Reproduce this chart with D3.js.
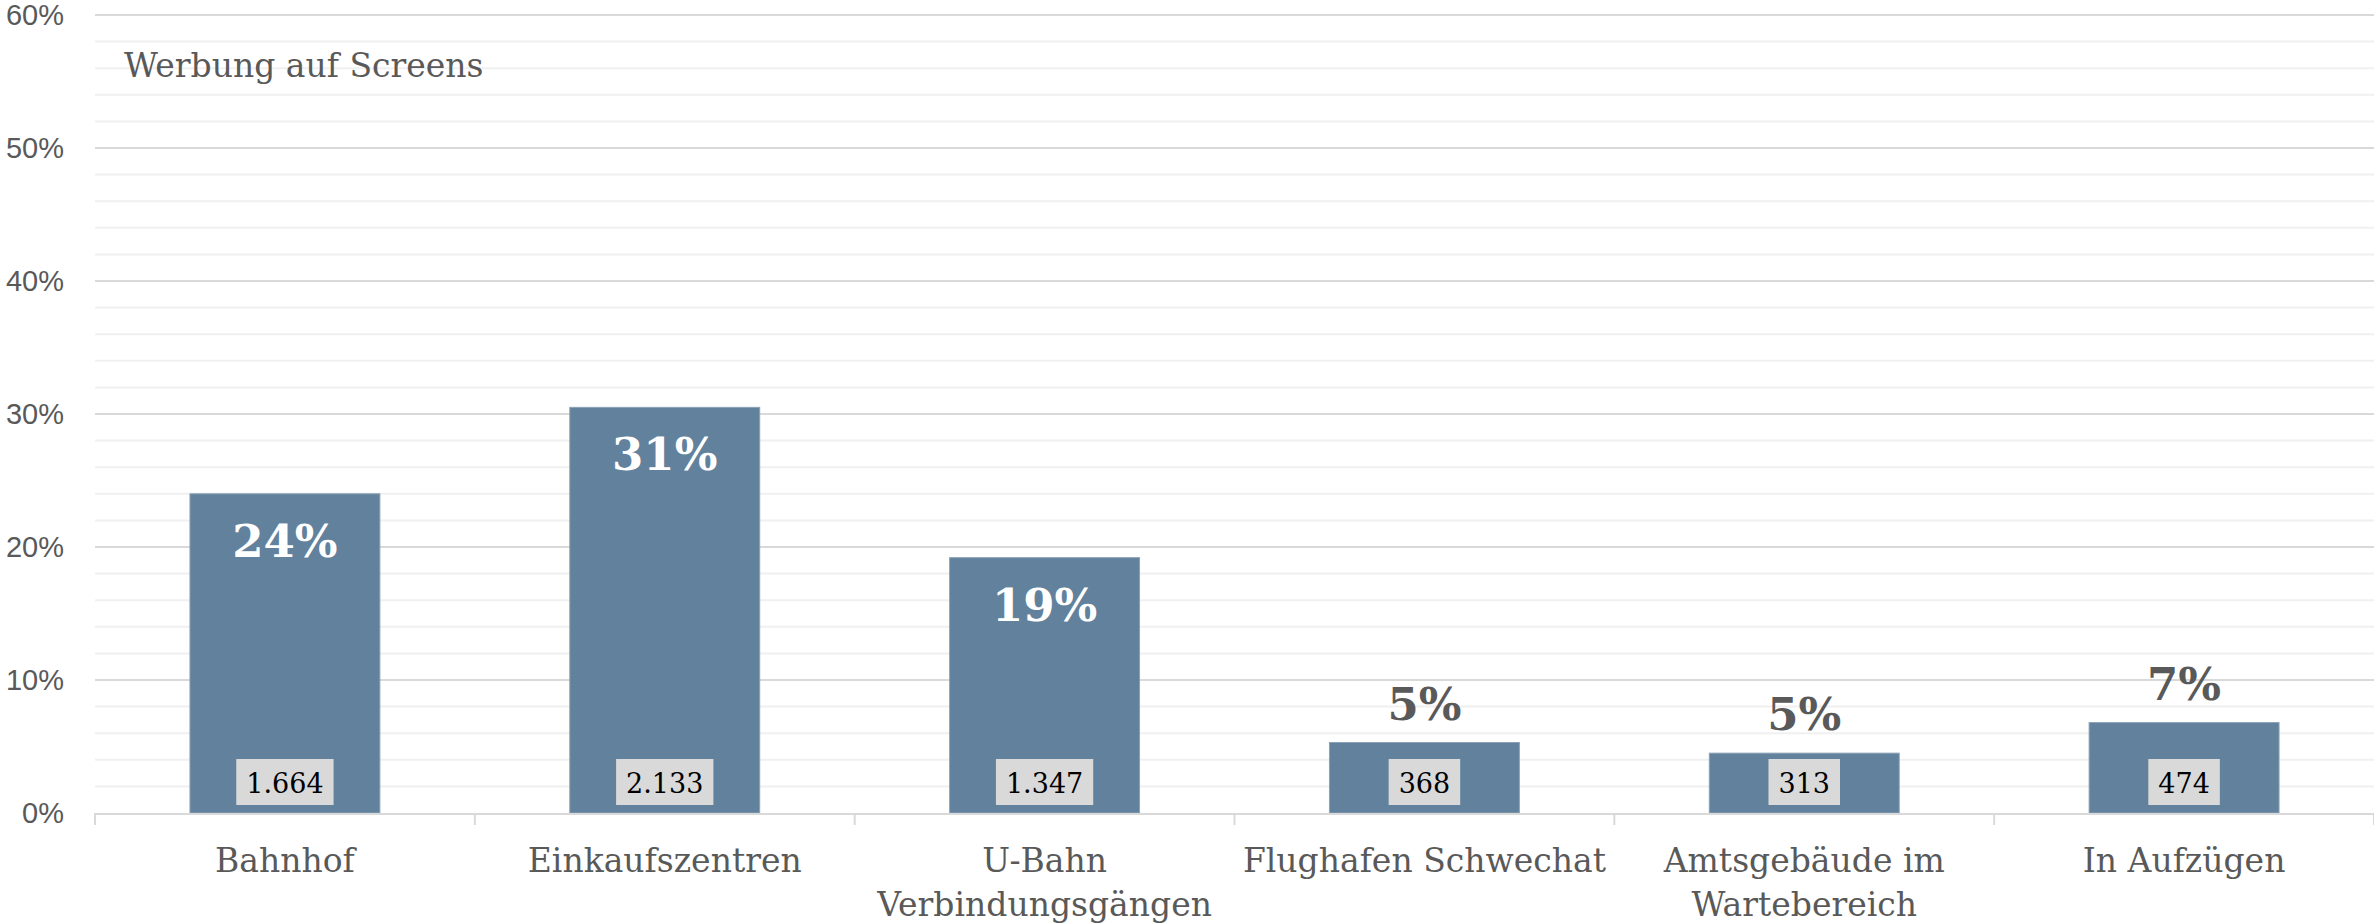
<!DOCTYPE html>
<html lang="de">
<head>
<meta charset="UTF-8">
<script src="https://cdn.jsdelivr.net/npm/d3@7"></script>
<title>Werbung auf Screens</title>
<style>
  body { margin: 0; background: #fff; }
  text { font-family: "DejaVu Serif", serif; fill: #595959; }
  .ylab { font-family: "Liberation Sans", Arial, sans-serif; font-size: 29px; }
</style>
</head>
<body>
<script>
const categories = ["Bahnhof", "Einkaufszentren", "U-Bahn\nVerbindungsgängen", "Flughafen Schwechat", "Amtsgebäude im\nWartebereich", "In Aufzügen"]
const shares = [24.0, 30.5, 19.2, 5.3, 4.5, 6.8]
const shareLabels = ["24%", "31%", "19%", "5%", "5%", "7%"]
const counts = ["1.664", "2.133", "1.347", "368", "313", "474"]
const yTicks = [0, 10, 20, 30, 40, 50, 60]
const title = "Werbung auf Screens"

const width = 2374, height = 924
const margin = {top: 15, right: 0, bottom: 111, left: 95}

const data = categories.map((c, i) => ({cat: c, value: shares[i], label: shareLabels[i], count: counts[i]}))

const svg = d3.select("body").append("svg")
    .attr("width", width)
    .attr("height", height)

const x = d3.scaleBand()
    .domain(categories)
    .range([margin.left, width - margin.right])
    .paddingInner(0.5)
    .paddingOuter(0.25)

const y = d3.scaleLinear()
    .domain([0, 60])
    .range([height - margin.bottom, margin.top])

// minor + major gridlines
svg.append("g").selectAll("line")
    .data(d3.range(2, 61, 2))
    .join("line")
    .attr("x1", margin.left).attr("x2", width - margin.right)
    .attr("y1", d => y(d)).attr("y2", d => y(d))
    .attr("stroke", d => d % 10 === 0 ? "#d9d9d9" : "#f0f0f0")
    .attr("stroke-width", 2)

// y axis labels
const yAxis = svg.append("g")
    .attr("transform", `translate(${margin.left},0)`)
    .call(d3.axisLeft(y).tickValues(yTicks).tickFormat(d => d + "%").tickSize(0).tickPadding(31))
yAxis.select(".domain").remove()
yAxis.selectAll("text").attr("class", "ylab").attr("fill", "#595959")

// title
svg.append("text")
    .attr("x", 124).attr("y", 77)
    .attr("font-size", 33)
    .text(title)

// bars
svg.append("g").selectAll("rect")
    .data(data)
    .join("rect")
    .attr("x", d => x(d.cat))
    .attr("width", x.bandwidth())
    .attr("y", d => y(d.value))
    .attr("height", d => y(0) - y(d.value))
    .attr("fill", "#61819d")
    .attr("stroke", "#8ba2b6")
    .attr("stroke-width", 1)

// x axis line + ticks at band boundaries
const base = y(0)
svg.append("line")
    .attr("x1", margin.left).attr("x2", width)
    .attr("y1", base + 1).attr("y2", base + 1)
    .attr("stroke", "#d9d9d9").attr("stroke-width", 2)
svg.append("g").selectAll("line")
    .data(d3.range(categories.length + 1))
    .join("line")
    .attr("x1", i => margin.left + i * x.step()).attr("x2", i => margin.left + i * x.step())
    .attr("y1", base).attr("y2", base + 12)
    .attr("stroke", "#d9d9d9").attr("stroke-width", 2)

// percentage labels
svg.append("g").selectAll("text")
    .data(data)
    .join("text")
    .attr("x", d => x(d.cat) + x.bandwidth() / 2)
    .attr("y", d => d.value > 10 ? y(d.value) + 63 : y(d.value) - 23)
    .attr("text-anchor", "middle")
    .attr("font-size", 45)
    .attr("font-weight", "bold")
    .style("fill", d => d.value > 10 ? "#ffffff" : "#595959")
    .text(d => d.label)

// count boxes
const countG = svg.append("g").selectAll("g")
    .data(data)
    .join("g")
    .attr("transform", d => `translate(${x(d.cat) + x.bandwidth() / 2},${base - 8})`)
countG.append("text")
    .attr("text-anchor", "middle")
    .attr("y", -12)
    .attr("font-size", 27)
    .style("fill", "#000")
    .text(d => d.count)
countG.each(function() {
    const g = d3.select(this)
    const bb = g.select("text").node().getBBox()
    g.insert("rect", "text")
        .attr("x", bb.x - 10)
        .attr("width", bb.width + 20)
        .attr("y", -46)
        .attr("height", 46)
        .attr("fill", "#d9d9d9")
})

// category labels
svg.append("g").selectAll("text")
    .data(data)
    .join("text")
    .attr("text-anchor", "middle")
    .attr("font-size", 33)
    .attr("transform", d => `translate(${x(d.cat) + x.bandwidth() / 2},${base + 59})`)
    .each(function(d) {
        d3.select(this).selectAll("tspan")
            .data(d.cat.split("\n"))
            .join("tspan")
            .attr("x", 0)
            .attr("dy", (l, i) => i === 0 ? 0 : 44)
            .text(l => l)
    })
</script>
</body>
</html>
